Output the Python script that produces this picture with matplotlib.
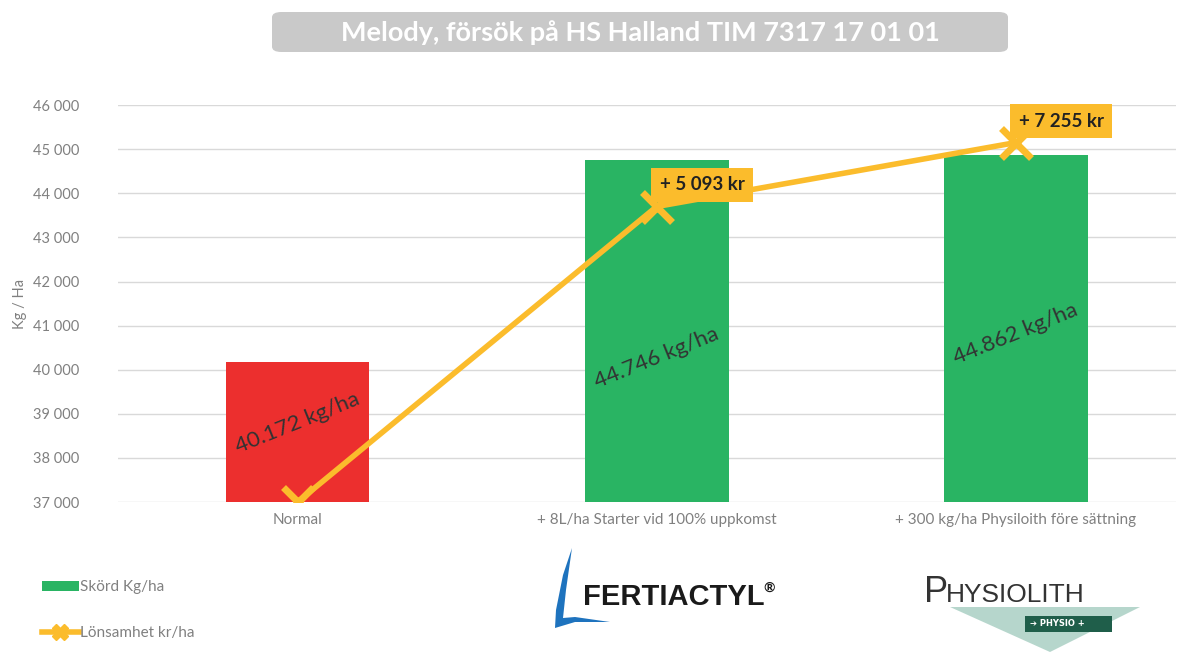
import matplotlib
matplotlib.use("Agg")
import matplotlib.pyplot as plt
from matplotlib.patches import Patch, FancyBboxPatch, Polygon, Rectangle
from matplotlib.lines import Line2D
from matplotlib.ticker import FuncFormatter

plt.rcParams['font.family'] = ['Lato', 'DejaVu Sans']

# ---- data ----
categories = ["Normal", "+ 8L/ha Starter vid 100% uppkomst", "+ 300 kg/ha Physiloith före sättning"]
yield_kg = [40172, 44746, 44862]
bar_labels = ["40.172 kg/ha", "44.746 kg/ha", "44.862 kg/ha"]
profit_kr = [0, 5093, 7255]
profit_line_level = [37000, 43700, 45150]   # where the profitability line is drawn (chart units)
profit_labels = ["", "+ 5 093 kr", "+ 7 255 kr"]
yticks = list(range(37000, 46001, 1000))

title = "Melody, försök på HS Halland TIM 7317 17 01 01"

RED = "#EC2F2E"
GREEN = "#29B463"
GOLD = "#FBBC2C"
GRID = "#D9D9D9"
TICK = "#808080"

fig = plt.figure(figsize=(11.82, 6.65), dpi=100)
ax = fig.add_axes([0.0998, 0.245, 0.8952, 0.597])

x = list(range(len(categories)))
ax.bar(x, yield_kg, width=0.4, color=[RED, GREEN, GREEN], zorder=2)
ax.set_xlim(-0.5, 2.446)
ax.set_ylim(37000, 46000)
ax.set_yticks(yticks)
ax.yaxis.set_major_formatter(FuncFormatter(lambda v, p: f"{int(v):,}".replace(",", " ")))
ax.set_xticks(x)
ax.set_xticklabels(categories)
ax.tick_params(axis='both', length=0, colors=TICK)
ax.tick_params(axis='y', pad=28, labelsize=10.5)
ax.tick_params(axis='x', pad=8, labelsize=11)
ax.grid(axis='y', color=GRID, linewidth=1, zorder=0)
for s in ax.spines.values():
    s.set_visible(False)
ax.set_ylabel("Kg / Ha", color=TICK, fontsize=10.5, labelpad=4)

# bar value labels (rotated, inside bars)
label_offsets = [-1380, -4480, -4060]
for xi, v, lab, off in zip(x, yield_kg, bar_labels, label_offsets):
    ax.text(xi, v + off, lab, rotation=22, ha='center', va='center',
            fontsize=16, color="#333333", zorder=4, rotation_mode='anchor')

# profitability line
ax.plot(x, profit_line_level, color=GOLD, linewidth=4, marker='x', markersize=22,
        markeredgewidth=5, zorder=3, solid_capstyle='round')

# profit annotations
for xi, yv, lab in zip(x, profit_line_level, profit_labels):
    if lab:
        ax.annotate(lab, xy=(xi, yv), xytext=(2, 15.5), textcoords='offset points',
                    ha='left', va='center', fontsize=13.5, fontweight='bold', color="#222222",
                    bbox=dict(boxstyle='square,pad=0.45', fc=GOLD, ec='none'), zorder=5)

# title
fig.patches.append(FancyBboxPatch((272 / 1182, 1 - 52 / 665), (1008 - 272) / 1182, 40 / 665,
                                  boxstyle='round,pad=0,rounding_size=0.008',
                                  transform=fig.transFigure, fc="#C9C9C9", ec='none'))
fig.text(640 / 1182, 1 - 33 / 665, title, ha='center', va='center', fontsize=19.5,
         fontweight='bold', color='white')

# legend
handles = [Patch(facecolor=GREEN, edgecolor='none'),
           Line2D([0], [0], color=GOLD, linewidth=4, marker='X', markersize=11,
                  markerfacecolor=GOLD, markeredgecolor=GOLD)]
fig.legend(handles, ["Skörd Kg/ha", "Lönsamhet kr/ha"], loc='upper left',
           bbox_to_anchor=(0.024, 0.148), frameon=False, fontsize=11, labelcolor=TICK,
           handlelength=2.4, handleheight=0.6, handletextpad=0.1, labelspacing=2.05,
           markerscale=1.0)

# FERTIACTYL logo
leaf = Polygon([(572 / 1182, 1 - 548 / 665), (563 / 1182, 1 - 575 / 665), (556 / 1182, 1 - 610 / 665),
                (555 / 1182, 1 - 628 / 665), (575 / 1182, 1 - 622 / 665), (610 / 1182, 1 - 622 / 665),
                (575 / 1182, 1 - 617 / 665), (563 / 1182, 1 - 618 / 665), (566 / 1182, 1 - 590 / 665)],
               closed=True, transform=fig.transFigure, fc="#1E73BE", ec='none')
fig.patches.append(leaf)
fig.text(583 / 1182, 1 - 597 / 665, "FERTIACTYL", ha='left', va='center', fontsize=21,
         fontweight='bold', color="#1A1A1A", family=['Liberation Sans', 'DejaVu Sans'])
fig.text(763 / 1182, 1 - 588 / 665, "®", ha='left', va='center', fontsize=10,
         fontweight='bold', color="#1A1A1A")

# PHYSIOLITH logo
tri = Polygon([(950 / 1182, 1 - 607 / 665), (1140 / 1182, 1 - 607 / 665), (1050 / 1182, 1 - 652 / 665)],
              closed=True, transform=fig.transFigure, fc="#2E8B6E", ec='none', alpha=0.35)
fig.patches.append(tri)
fig.text(924 / 1182, 1 - 592 / 665, "P", ha='left', va='center', fontsize=26,
         color="#333333", family=['Liberation Sans', 'DejaVu Sans'])
fig.text(946 / 1182, 1 - 595 / 665, "HYSIOLITH", ha='left', va='center', fontsize=19,
         color="#333333", family=['Liberation Sans', 'DejaVu Sans'])
fig.patches.append(Rectangle((1025 / 1182, 1 - 632 / 665), 87 / 1182, 16 / 665,
                             transform=fig.transFigure, fc="#1F5E4A", ec='none'))
fig.text(1030 / 1182, 1 - 624 / 665, "➔ PHYSIO +", ha='left', va='center', fontsize=6,
         color='white', fontweight='bold', family=['DejaVu Sans'])

fig.savefig("out.png", dpi=100)
